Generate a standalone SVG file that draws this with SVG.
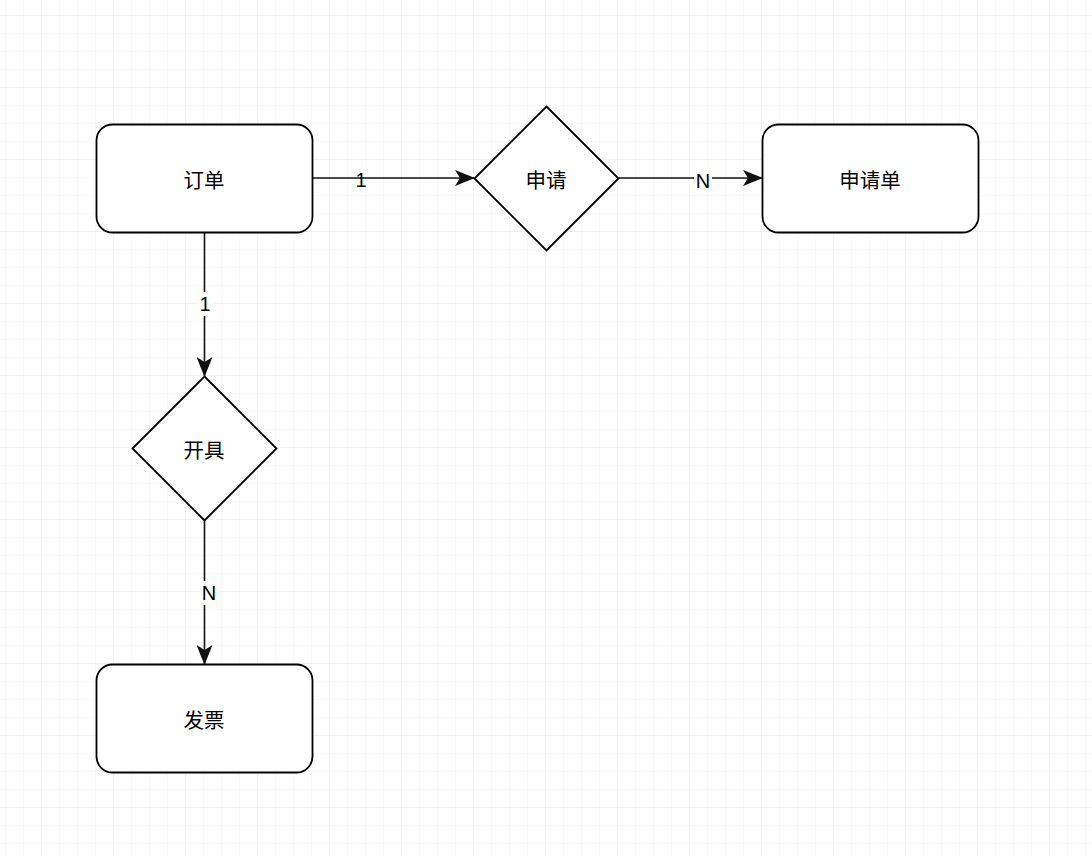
<svg xmlns="http://www.w3.org/2000/svg" width="1092" height="856" viewBox="0 0 1092 856">
<defs>
<pattern id="minor" x="5" y="15" width="18" height="18" patternUnits="userSpaceOnUse">
<path d="M0 0H18M0 0V18" fill="none" stroke="#f3f3f3" stroke-width="1"/>
</pattern>
<pattern id="major" x="41" y="15" width="72" height="72" patternUnits="userSpaceOnUse">
<path d="M0 0H72M0 0V72" fill="none" stroke="#e8e8e8" stroke-width="1"/>
</pattern>
<marker id="arr" viewBox="0 0 20 16" refX="19" refY="8" markerWidth="20" markerHeight="16" markerUnits="userSpaceOnUse" orient="auto">
<path d="M0 0L20 8L0 16L5 8Z" fill="#111"/>
</marker>
</defs>
<style>
.node{fill:#fff;stroke:#000;stroke-width:1.8}
.edge{fill:none;stroke:#111;stroke-width:1.6}
.t{font-family:"Noto Sans CJK SC","Liberation Sans",sans-serif;font-size:20.5px;fill:#000;text-anchor:middle;dominant-baseline:central}
.lbl{font-family:"Liberation Sans",Arial,sans-serif;font-size:20px;fill:#000;text-anchor:middle;dominant-baseline:central}
</style>
<rect width="1092" height="856" fill="#fff"/>
<rect width="1092" height="856" fill="url(#minor)"/>
<rect width="1092" height="856" fill="url(#major)"/>
<g id="connectors">
<line class="edge" x1="312.5" y1="178" x2="474" y2="178" stroke-width="2.6" marker-end="url(#arr)"/>
<text class="lbl" x="361" y="180">1</text>
<line class="edge" x1="618.5" y1="178" x2="762" y2="178" marker-end="url(#arr)"/>
<rect x="694" y="170" width="18" height="22" fill="#fff"/>
<text class="lbl" x="703" y="181">N</text>
<line class="edge" x1="204.5" y1="232.5" x2="204.5" y2="376" marker-end="url(#arr)"/>
<rect x="196" y="292" width="18" height="24" fill="#fff"/>
<text class="lbl" x="205" y="304">1</text>
<line class="edge" x1="204.5" y1="520" x2="204.5" y2="664" marker-end="url(#arr)"/>
<rect x="200" y="581" width="20" height="24" fill="#fff"/>
<text class="lbl" x="209" y="593">N</text>
</g>
<g id="order">
<rect class="node" x="96.5" y="124.5" width="216" height="108" rx="16"/>
<text class="t" x="204" y="178.5">订单</text>
</g>
<g id="apply">
<polygon class="node" points="546.5,106.5 618.5,178.5 546.5,250.5 474.5,178.5"/>
<text class="t" x="546" y="178.5">申请</text>
</g>
<g id="application">
<rect class="node" x="762.5" y="124.5" width="216" height="108" rx="16"/>
<text class="t" x="870" y="178.5">申请单</text>
</g>
<g id="issue">
<polygon class="node" points="204.5,376.5 276.5,448.5 204.5,520.5 132.5,448.5"/>
<text class="t" x="204" y="448.5">开具</text>
</g>
<g id="invoice">
<rect class="node" x="96.5" y="664.5" width="216" height="108" rx="16"/>
<text class="t" x="204" y="718.5">发票</text>
</g>
</svg>
